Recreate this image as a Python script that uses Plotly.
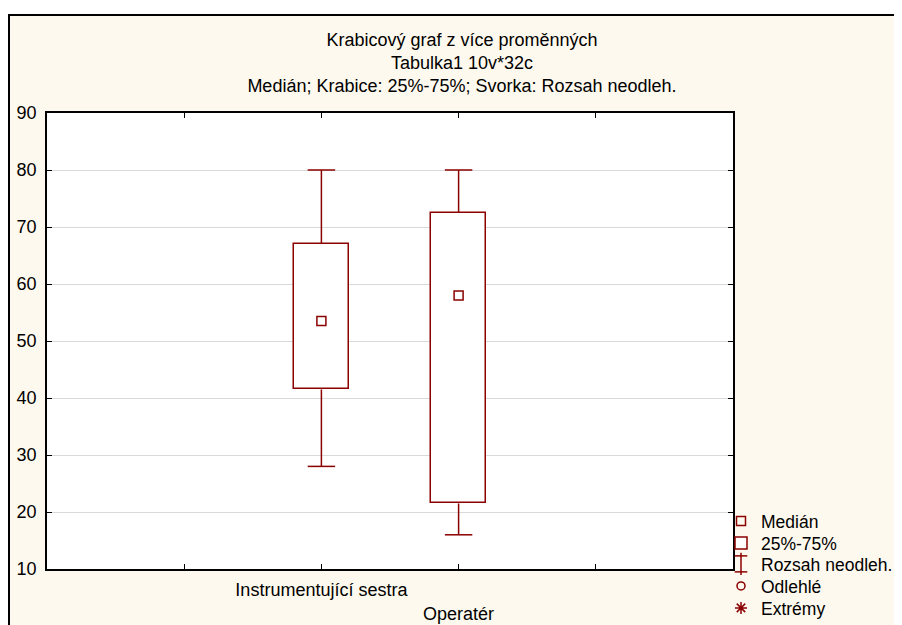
import plotly.graph_objects as go

# ---- data ----
categories = ["Instrumentující sestra", "Operatér"]
cat_pos = [2, 3]
medians = [53.5, 58.0]
q1 = [41.5, 21.5]
q3 = [67.0, 72.5]
mins = [28.0, 16.0]
maxs = [80.0, 80.0]
x_tickvals = [1, 2, 3, 4]
x_ticktext = ["", "Instrumentující sestra", "<br>Operatér", ""]
y_tickvals = [10, 20, 30, 40, 50, 60, 70, 80, 90]
title_lines = ["Krabicový graf z více proměnných", "Tabulka1 10v*32c",
               "Medián; Krabice: 25%-75%; Svorka: Rozsah neodleh."]
legend_names = ["Medián", "25%-75%", "Rozsah neodleh.", "Odlehlé", "Extrémy"]

RED = "#8B0000"
FONT = "Liberation Sans, Arial, sans-serif"
BOX_W = 0.4
CAP_HALF = 0.1
LEG_IDS = ["legend", "legend2", "legend3", "legend4", "legend5"]
CAP_IDS = ["legend6", "legend7"]

fig = go.Figure()

# boxes (25%-75%)
fig.add_trace(go.Bar(
    x=cat_pos, base=q1, y=[b - a for a, b in zip(q1, q3)], width=BOX_W,
    marker=dict(color="white", line=dict(color=RED, width=1.5)),
    name=legend_names[1], legend=LEG_IDS[1], hoverinfo="skip"))

# whiskers with caps
wx, wy = [], []
for x, lo, a, b, hi in zip(cat_pos, mins, q1, q3, maxs):
    wx += [x, x, None, x - CAP_HALF, x + CAP_HALF, None,
           x, x, None, x - CAP_HALF, x + CAP_HALF, None]
    wy += [b, hi, None, hi, hi, None, a, lo, None, lo, lo, None]
fig.add_trace(go.Scatter(x=wx, y=wy, mode="lines",
                         line=dict(color=RED, width=1.5),
                         showlegend=False, hoverinfo="skip"))

# medians
fig.add_trace(go.Scatter(
    x=cat_pos, y=medians, mode="markers", name=legend_names[0],
    legend=LEG_IDS[0],
    marker=dict(symbol="square-open", size=9, color=RED, line=dict(width=1.5))))

# legend-only entries
fig.add_trace(go.Scatter(x=[None], y=[None], mode="markers", name=legend_names[2],
                         legend=LEG_IDS[2],
                         marker=dict(symbol="line-ns-open", size=16, color=RED,
                                     line=dict(width=1.5, color=RED))))
for cid in CAP_IDS:   # caps of the whisker legend symbol
    fig.add_trace(go.Scatter(x=[None], y=[None], mode="markers", name=" ",
                             legend=cid,
                             marker=dict(symbol="line-ew-open", size=9,
                                         color=RED,
                                         line=dict(width=1.5, color=RED))))
fig.add_trace(go.Scatter(x=[None], y=[None], mode="markers", name=legend_names[3],
                         legend=LEG_IDS[3],
                         marker=dict(symbol="circle-open", size=8, color=RED,
                                     line=dict(width=1.5))))
fig.add_trace(go.Scatter(x=[None], y=[None], mode="markers", name=legend_names[4],
                         legend=LEG_IDS[4],
                         marker=dict(symbol="asterisk-open", size=10, color=RED,
                                     line=dict(width=1.5, color=RED))))

# page is rendered with an 8px body margin: work in page pixels, convert
OFF = 8
W, H = 902 - OFF, 625 - OFF
PL, PR, PT, PB = 47, 733, 113, 569          # plot area in page pixels
L, T = PL - OFF, PT - OFF
R, B = W - (PR - OFF), H - (PB - OFF)
pw, ph = W - L - R, H - T - B


def px_x(p):
    return (p - OFF - L) / pw


def px_y(p):
    return (H - B - (p - OFF)) / ph


legend_rows = [521, 543, 564, 586, 608]   # page y of legend entries
legends = {}
for lid, yc in zip(LEG_IDS, legend_rows):
    legends[lid] = dict(x=px_x(721), xanchor="left", y=px_y(yc),
                        yanchor="middle", bgcolor="rgba(0,0,0,0)",
                        font=dict(size=17.5, family=FONT, color="black"),
                        itemwidth=30)
for cid, yc in zip(CAP_IDS, [legend_rows[2] - 8, legend_rows[2] + 8]):
    legends[cid] = dict(x=px_x(721), xanchor="left", y=px_y(yc),
                        yanchor="middle", bgcolor="rgba(0,0,0,0)",
                        font=dict(size=17.5, family=FONT, color="black"),
                        itemwidth=30)

fig.update_layout(
    width=W, height=H,
    margin=dict(l=L, r=R, t=T, b=B, autoexpand=False),
    paper_bgcolor="white", plot_bgcolor="white",
    font=dict(family=FONT, size=18, color="black"),
    title=dict(text="<br>".join(title_lines), x=(462 - OFF) / W,
               xref="container", xanchor="center", y=1 - 37.5 / H,
               yref="container", yanchor="top",
               font=dict(size=18, family=FONT, color="black")),
    showlegend=True,
    shapes=[
        dict(type="rect", xref="paper", yref="paper", layer="below",
             x0=px_x(9), x1=px_x(920), y0=px_y(640), y1=px_y(15),
             fillcolor="#FEF9EE", line=dict(color="black", width=2)),
        dict(type="rect", xref="paper", yref="paper", layer="below",
             x0=0, x1=1, y0=0, y1=1, fillcolor="white", line=dict(width=0)),
    ],
    bargap=0,
    **legends,
)

fig.update_xaxes(range=[0, 5], tickmode="array", tickvals=x_tickvals,
                 ticktext=x_ticktext, ticks="inside", ticklen=5,
                 tickcolor="black", showline=True, linecolor="black",
                 linewidth=1.5, mirror="ticks", showgrid=False, zeroline=False,
                 ticklabelstandoff=4, tickfont=dict(size=18, family=FONT))
fig.update_yaxes(range=[10, 90], tickmode="array", tickvals=y_tickvals,
                 ticks="inside", ticklen=5, tickcolor="black", showline=True,
                 linecolor="black", linewidth=1.5, mirror="ticks",
                 showgrid=True, gridcolor="#D9D9D9", gridwidth=1,
                 zeroline=False, ticklabelstandoff=5,
                 tickfont=dict(size=18, family=FONT))

fig.write_html("out.html")
